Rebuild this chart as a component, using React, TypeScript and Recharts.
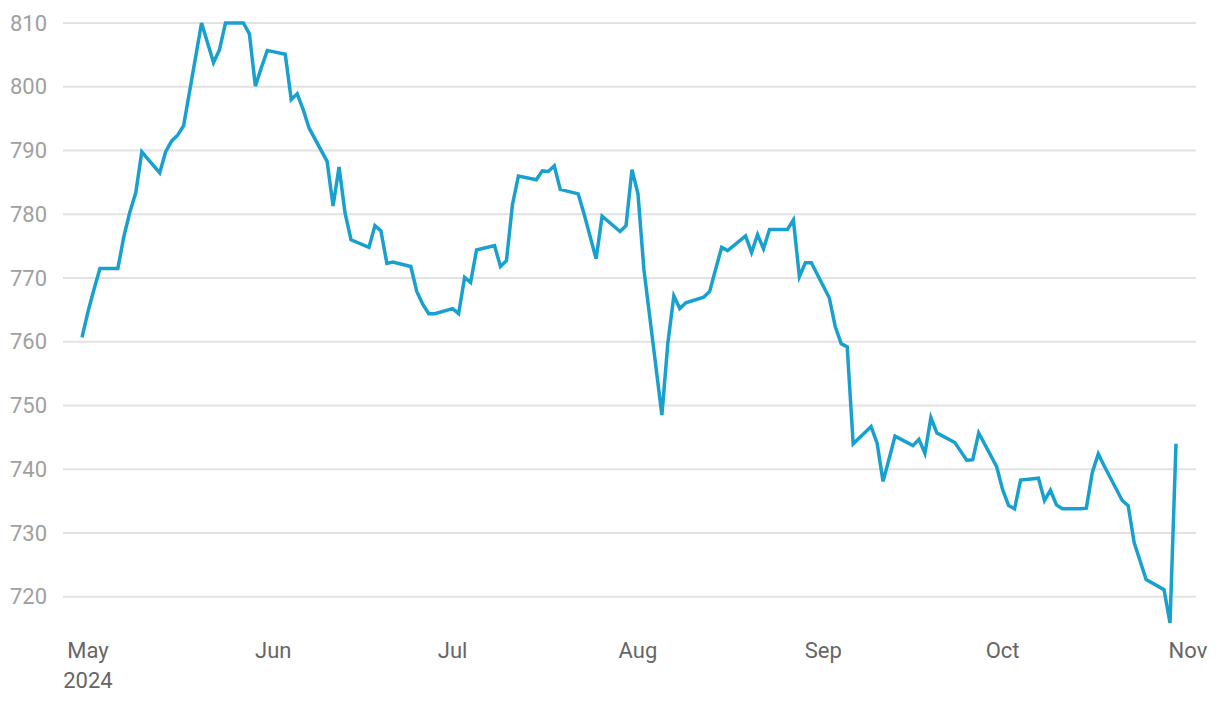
import React from 'react';
import { LineChart, Line, XAxis, YAxis, ReferenceLine } from 'recharts';

// trading days shown in the chart
const dates = [
  '2024-04-30',
  '2024-05-01', '2024-05-02', '2024-05-03', '2024-05-06', '2024-05-07', '2024-05-08', '2024-05-09', '2024-05-10',
  '2024-05-13', '2024-05-14', '2024-05-15', '2024-05-16', '2024-05-17', '2024-05-20', '2024-05-21', '2024-05-22',
  '2024-05-23', '2024-05-24', '2024-05-27', '2024-05-28', '2024-05-29', '2024-05-30', '2024-05-31',
  '2024-06-03', '2024-06-04', '2024-06-05', '2024-06-06', '2024-06-07', '2024-06-10', '2024-06-11', '2024-06-12',
  '2024-06-13', '2024-06-14', '2024-06-17', '2024-06-18', '2024-06-19', '2024-06-20', '2024-06-21', '2024-06-24',
  '2024-06-25', '2024-06-26', '2024-06-27', '2024-06-28',
  '2024-07-01', '2024-07-02', '2024-07-03', '2024-07-04', '2024-07-05', '2024-07-08', '2024-07-09', '2024-07-10',
  '2024-07-11', '2024-07-12', '2024-07-15', '2024-07-16', '2024-07-17', '2024-07-18', '2024-07-19', '2024-07-22',
  '2024-07-23', '2024-07-24', '2024-07-25', '2024-07-26', '2024-07-29', '2024-07-30', '2024-07-31',
  '2024-08-01', '2024-08-02', '2024-08-05', '2024-08-06', '2024-08-07', '2024-08-08', '2024-08-09', '2024-08-12',
  '2024-08-13', '2024-08-14', '2024-08-15', '2024-08-16', '2024-08-19', '2024-08-20', '2024-08-21', '2024-08-22',
  '2024-08-23', '2024-08-26', '2024-08-27', '2024-08-28', '2024-08-29', '2024-08-30',
  '2024-09-02', '2024-09-03', '2024-09-04', '2024-09-05', '2024-09-06', '2024-09-09', '2024-09-10', '2024-09-11',
  '2024-09-12', '2024-09-13', '2024-09-16', '2024-09-17', '2024-09-18', '2024-09-19', '2024-09-20', '2024-09-23',
  '2024-09-24', '2024-09-25', '2024-09-26', '2024-09-27', '2024-09-30',
  '2024-10-01', '2024-10-02', '2024-10-03', '2024-10-04', '2024-10-07', '2024-10-08', '2024-10-09', '2024-10-10',
  '2024-10-11', '2024-10-14', '2024-10-15', '2024-10-16', '2024-10-17', '2024-10-18', '2024-10-21', '2024-10-22',
  '2024-10-23', '2024-10-24', '2024-10-25', '2024-10-28', '2024-10-29', '2024-10-30',
];

const values = [
  760.7,
  764.7, 768.2, 771.5, 771.5, 776.5, 780.3, 783.4, 789.8,
  786.5, 789.8, 791.5, 792.4, 793.9, 810.0, 806.9, 803.8,
  805.8, 810.0, 810.0, 808.3, 800.1, 803.0, 805.7,
  805.1, 798.0, 798.9, 796.4, 793.5, 788.3, 781.3, 787.4,
  780.2, 776.0, 774.8, 778.2, 777.4, 772.3, 772.5, 771.8,
  767.9, 765.9, 764.4, 764.4,
  765.2, 764.4, 770.1, 769.3, 774.4, 775.1, 771.8, 772.7,
  781.5, 786.0, 785.4, 786.8, 786.7, 787.6, 783.9, 783.2,
  780.0, 776.5, 773.0, 779.7, 777.3, 778.2, 787.0,
  783.2, 771.3, 748.5, 759.8, 767.2, 765.2, 766.1, 767.0,
  767.9, 771.4, 774.8, 774.3, 776.6, 774.0, 776.8, 774.6,
  777.6, 777.6, 779.1, 770.2, 772.4, 772.4,
  766.9, 762.4, 759.7, 759.2, 744.0, 746.7, 744.1, 738.1,
  741.6, 745.2, 743.7, 744.7, 742.5, 748.1, 745.7, 744.2,
  742.8, 741.4, 741.5, 745.7, 740.4,
  736.8, 734.3, 733.8, 738.3, 738.6, 735.1, 736.7, 734.4,
  733.8, 733.8, 733.9, 739.5, 742.4, 740.5, 735.1, 734.3,
  728.5, 725.6, 722.7, 721.1, 715.9, 744.0,
];

const monthTicks = ['2024-05-01', '2024-06-01', '2024-07-01', '2024-08-01', '2024-09-01', '2024-10-01', '2024-11-01'];
const monthLabels = ['May', 'Jun', 'Jul', 'Aug', 'Sep', 'Oct', 'Nov'];
const valueTicks = [720, 730, 740, 750, 760, 770, 780, 790, 800, 810];

const data = dates.map((d, i) => ({ t: Date.parse(d), value: values[i] }));
const tickTimes = monthTicks.map((d) => Date.parse(d));

const FONT = 'Roboto, "Noto Sans", sans-serif';

const MonthTick = (props: any) => {
  const { x, y, payload } = props;
  const idx = tickTimes.indexOf(payload.value);
  return (
    <g>
      <text x={x} y={y} dy={21} textAnchor="middle" fill="#666" fontSize={22} fontFamily={FONT}>
        {monthLabels[idx]}
      </text>
      {idx === 0 && (
        <text x={x} y={y} dy={51} textAnchor="middle" fill="#666" fontSize={22} fontFamily={FONT}>
          2024
        </text>
      )}
    </g>
  );
};

const ValueTick = (props: any) => {
  const { y, payload } = props;
  return (
    <text x={10} y={y} dy="0.35em" textAnchor="start" fill="#a0a0a0" fontSize={22} fontFamily={FONT}>
      {payload.value}
    </text>
  );
};

export default function App() {
  return (
    <div style={{ position: 'absolute', left: 0, top: 0, background: '#fff' }}>
      <LineChart width={1220} height={704} data={data} margin={{ top: 23, right: 24, bottom: 9, left: 0 }}>
        <XAxis
          type="number"
          dataKey="t"
          scale="time"
          domain={[Date.parse('2024-04-30'), Date.parse('2024-10-30')]}
          padding={{ left: 19, right: 20 }}
          ticks={tickTimes}
          tick={<MonthTick />}
          axisLine={false}
          tickLine={false}
          tickSize={0}
          height={60}
          interval={0}
        />
        <YAxis
          domain={[714, 810]}
          ticks={valueTicks}
          tick={<ValueTick />}
          axisLine={false}
          tickLine={false}
          width={63}
          interval={0}
        />
        {valueTicks.map((v) => (
          <ReferenceLine key={v} y={v} stroke="#e2e2e2" strokeWidth={2} />
        ))}
        <Line
          type="linear"
          dataKey="value"
          stroke="#18a0cf"
          strokeWidth={3.5}
          dot={false}
          isAnimationActive={false}
        />
      </LineChart>
    </div>
  );
}
